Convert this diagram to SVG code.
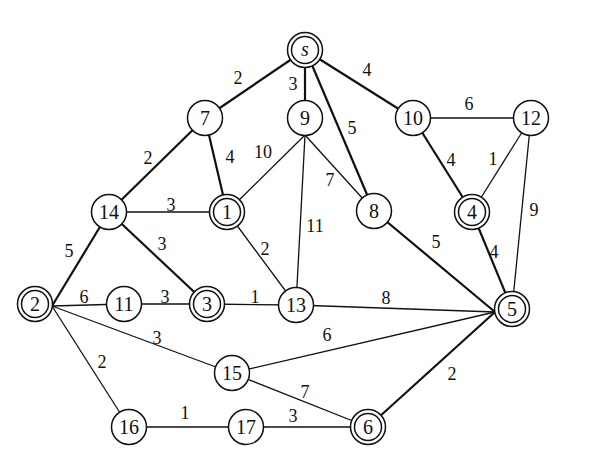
<svg xmlns="http://www.w3.org/2000/svg" width="614" height="465" viewBox="0 0 614 465">
<style>
.e{stroke:#111;fill:none}
.t{stroke-width:2.2}
.n{stroke-width:1.3}
.c{fill:#fff;stroke:#111;stroke-width:1.5}
.l{font-family:"Liberation Serif",serif;font-size:18px;fill:#111;text-anchor:middle}
.nl{font-family:"Liberation Serif",serif;font-size:20px;fill:#111;text-anchor:middle;dominant-baseline:central}
</style>
<rect width="614" height="465" fill="#fff"/>
<g id="connectors">
<line class="e t" x1="305" y1="50" x2="205" y2="118"/>
<line class="e t" x1="305" y1="50" x2="305" y2="118"/>
<line class="e t" x1="305" y1="50" x2="413" y2="118"/>
<line class="e t" x1="312" y1="65" x2="374" y2="211"/>
<line class="e t" x1="205" y1="118" x2="109" y2="212"/>
<line class="e t" x1="205" y1="118" x2="227" y2="212"/>
<line class="e n" x1="305" y1="135" x2="227" y2="212"/>
<line class="e n" x1="305" y1="135" x2="374" y2="211"/>
<line class="e n" x1="305" y1="135" x2="296" y2="305"/>
<line class="e n" x1="413" y1="118" x2="531" y2="118"/>
<line class="e t" x1="413" y1="118" x2="472" y2="212"/>
<line class="e n" x1="531" y1="118" x2="472" y2="212"/>
<line class="e n" x1="531" y1="118" x2="512" y2="309"/>
<line class="e n" x1="109" y1="212" x2="227" y2="212" style="stroke-width:1.7"/>
<line class="e t" x1="109" y1="212" x2="207" y2="304"/>
<line class="e t" x1="109" y1="212" x2="52" y2="306"/>
<line class="e n" x1="227" y1="212" x2="296" y2="305"/>
<line class="e t" x1="374" y1="211" x2="495" y2="312"/>
<line class="e t" x1="472" y1="212" x2="512" y2="309"/>
<line class="e n" x1="52" y1="306" x2="124" y2="304"/>
<line class="e n" x1="124" y1="304" x2="207" y2="304"/>
<line class="e n" x1="207" y1="304" x2="296" y2="305"/>
<line class="e n" x1="296" y1="305" x2="495" y2="312"/>
<line class="e n" x1="52" y1="306" x2="232" y2="373"/>
<line class="e n" x1="495" y1="312" x2="232" y2="373"/>
<line class="e n" x1="52" y1="306" x2="129" y2="427"/>
<line class="e n" x1="232" y1="373" x2="368" y2="427"/>
<line class="e n" x1="129" y1="427" x2="246" y2="427"/>
<line class="e n" x1="246" y1="427" x2="368" y2="427"/>
<line class="e t" x1="495" y1="312" x2="368" y2="427"/>
</g>
<g id="edge-labels">
<text class="l" x="238" y="84">2</text>
<text class="l" x="293" y="90">3</text>
<text class="l" x="367" y="76">4</text>
<text class="l" x="352" y="134">5</text>
<text class="l" x="148" y="164">2</text>
<text class="l" x="230" y="163">4</text>
<text class="l" x="263" y="158">10</text>
<text class="l" x="330" y="186">7</text>
<text class="l" x="315" y="232">11</text>
<text class="l" x="469" y="110">6</text>
<text class="l" x="451" y="166">4</text>
<text class="l" x="493" y="165">1</text>
<text class="l" x="534" y="216">9</text>
<text class="l" x="171" y="211">3</text>
<text class="l" x="162" y="250">3</text>
<text class="l" x="69" y="257">5</text>
<text class="l" x="265" y="255">2</text>
<text class="l" x="436" y="248">5</text>
<text class="l" x="494" y="258">4</text>
<text class="l" x="84" y="303">6</text>
<text class="l" x="165" y="303">3</text>
<text class="l" x="255" y="303">1</text>
<text class="l" x="386" y="304">8</text>
<text class="l" x="157" y="344">3</text>
<text class="l" x="327" y="341">6</text>
<text class="l" x="102" y="368">2</text>
<text class="l" x="305" y="398">7</text>
<text class="l" x="185" y="419">1</text>
<text class="l" x="293" y="422">3</text>
<text class="l" x="452" y="380">2</text>
</g>
<g id="node-s"><circle class="c" cx="305" cy="50" r="17.5"/><circle class="c" cx="305" cy="50" r="13.5"/><text class="nl" x="305" y="49" font-style="italic">s</text></g>
<g id="node-7"><circle class="c" cx="205" cy="118" r="17.5"/><text class="nl" x="205" y="118">7</text></g>
<g id="node-9"><circle class="c" cx="305" cy="118" r="17.5"/><text class="nl" x="305" y="118">9</text></g>
<g id="node-10"><circle class="c" cx="413" cy="118" r="17.5"/><text class="nl" x="413" y="118">10</text></g>
<g id="node-12"><circle class="c" cx="531" cy="118" r="17.5"/><text class="nl" x="531" y="118">12</text></g>
<g id="node-14"><circle class="c" cx="109" cy="212" r="17.5"/><text class="nl" x="109" y="212">14</text></g>
<g id="node-1"><circle class="c" cx="227" cy="212" r="17.5"/><circle class="c" cx="227" cy="212" r="13.5"/><text class="nl" x="227" y="212">1</text></g>
<g id="node-8"><circle class="c" cx="374" cy="211" r="17.5"/><text class="nl" x="374" y="211">8</text></g>
<g id="node-4"><circle class="c" cx="472" cy="212" r="17.5"/><circle class="c" cx="472" cy="212" r="13.5"/><text class="nl" x="472" y="212">4</text></g>
<g id="node-2"><circle class="c" cx="35" cy="304" r="17.5"/><circle class="c" cx="35" cy="304" r="13.5"/><text class="nl" x="35" y="304">2</text></g>
<g id="node-11"><circle class="c" cx="124" cy="304" r="17.5"/><text class="nl" x="124" y="304">11</text></g>
<g id="node-3"><circle class="c" cx="207" cy="304" r="17.5"/><circle class="c" cx="207" cy="304" r="13.5"/><text class="nl" x="207" y="304">3</text></g>
<g id="node-13"><circle class="c" cx="296" cy="305" r="17.5"/><text class="nl" x="296" y="305">13</text></g>
<g id="node-5"><circle class="c" cx="512" cy="309" r="17.5"/><circle class="c" cx="512" cy="309" r="13.5"/><text class="nl" x="512" y="309">5</text></g>
<g id="node-15"><circle class="c" cx="232" cy="373" r="17.5"/><text class="nl" x="232" y="373">15</text></g>
<g id="node-16"><circle class="c" cx="129" cy="427" r="17.5"/><text class="nl" x="129" y="427">16</text></g>
<g id="node-17"><circle class="c" cx="246" cy="427" r="17.5"/><text class="nl" x="246" y="427">17</text></g>
<g id="node-6"><circle class="c" cx="368" cy="427" r="17.5"/><circle class="c" cx="368" cy="427" r="13.5"/><text class="nl" x="368" y="427">6</text></g>
</svg>
